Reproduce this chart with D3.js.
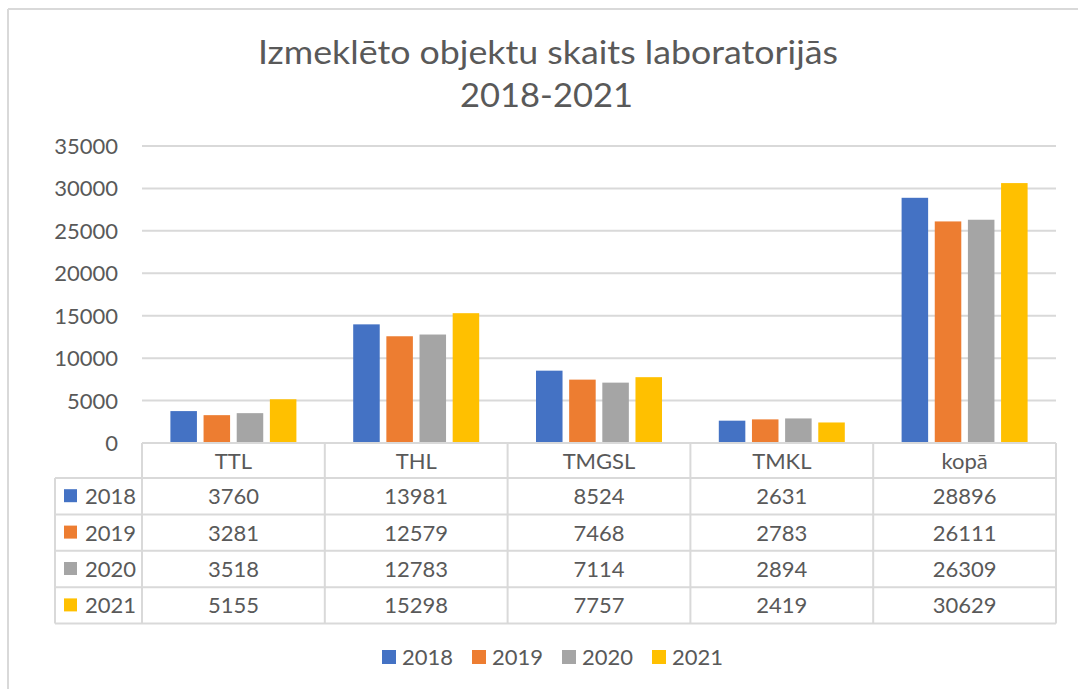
<!DOCTYPE html>
<html>
<head>
<meta charset="utf-8">
<script src="https://cdn.jsdelivr.net/npm/d3@7"></script>
<style>
  body { margin: 0; background: #fff; }
  text { font-family: Lato, "Liberation Sans", sans-serif; fill: #595959; }
</style>
</head>
<body>
<script>
// data
var categories = ['TTL', 'THL', 'TMGSL', 'TMKL', 'kopā'];
var years = ['2018', '2019', '2020', '2021'];
var values2018 = [3760, 13981, 8524, 2631, 28896];
var values2019 = [3281, 12579, 7468, 2783, 26111];
var values2020 = [3518, 12783, 7114, 2894, 26309];
var values2021 = [5155, 15298, 7757, 2419, 30629];
var yTicks = [0, 5000, 10000, 15000, 20000, 25000, 30000, 35000];
var colors = ['#4472C4', '#ED7D31', '#A5A5A5', '#FFC000'];

var series = [values2018, values2019, values2020, values2021];

var w = 1078;
var h = 689;
var plotLeft = 142, plotRight = 1056, plotTop = 146, base = 443;
var rowH = 36.4;
var headH = 35;
var legendColX = 55;
var grid = '#D9D9D9';
var fs = 22;

var svg = d3.select('body')
            .append('svg')
            .attr('width', w)
            .attr('height', h);

// outer frame (only top and left edges visible)
svg.append('line')
  .attr('x1', 8).attr('x2', w).attr('y1', 9).attr('y2', 9)
  .attr('stroke', grid).attr('stroke-width', 2);
svg.append('line')
  .attr('x1', 8).attr('x2', 8).attr('y1', 9).attr('y2', h)
  .attr('stroke', grid).attr('stroke-width', 2);

// title
svg.append('text')
  .attr('x', 258).attr('y', 64)
  .attr('font-size', 33)
  .attr('textLength', 580)
  .attr('lengthAdjust', 'spacingAndGlyphs')
  .text('Izmeklēto objektu skaits laboratorijās');
svg.append('text')
  .attr('x', 460).attr('y', 107)
  .attr('font-size', 33)
  .attr('textLength', 173)
  .attr('lengthAdjust', 'spacingAndGlyphs')
  .text('2018-2021');

var x0 = d3.scaleBand().domain(categories).range([plotLeft, plotRight]);
var x1 = d3.scaleBand().domain(years)
  .range([28.4, x0.bandwidth() - 28.4])
  .paddingInner(0.2);
var y = d3.scaleLinear().domain([0, 35000]).range([base, plotTop]);

// gridlines
svg.append('g')
  .selectAll('line')
  .data(yTicks)
  .enter()
  .append('line')
    .attr('x1', plotLeft).attr('x2', plotRight)
    .attr('y1', d => y(d)).attr('y2', d => y(d))
    .attr('stroke', grid).attr('stroke-width', 2);

// y labels
svg.append('g')
  .selectAll('text')
  .data(yTicks)
  .enter()
  .append('text')
    .attr('x', 118)
    .attr('y', d => y(d) + 8)
    .attr('text-anchor', 'end')
    .attr('font-size', fs)
    .text(d => d);

// bars
svg.append('g')
  .selectAll('g')
  .data(series)
  .enter()
  .append('g')
    .attr('fill', (d, i) => colors[i])
  .each(function(vals, si) {
    d3.select(this).selectAll('rect')
      .data(vals)
      .enter()
      .append('rect')
        .attr('x', (d, ci) => x0(categories[ci]) + x1(years[si]))
        .attr('width', x1.bandwidth())
        .attr('y', d => y(d))
        .attr('height', d => base - y(d));
  });

// data table
var tableBottom = base + headH + rowH * years.length;
var tg = svg.append('g')
  .attr('stroke', grid).attr('stroke-width', 2).attr('fill', 'none');

tg.append('line').attr('x1', plotLeft).attr('x2', plotRight).attr('y1', base).attr('y2', base);
d3.range(years.length + 1).forEach(function(i) {
  tg.append('line')
    .attr('x1', legendColX).attr('x2', plotRight)
    .attr('y1', base + headH + i * rowH).attr('y2', base + headH + i * rowH);
});
categories.forEach(function(c) {
  tg.append('line').attr('x1', x0(c)).attr('x2', x0(c)).attr('y1', base).attr('y2', tableBottom);
});
tg.append('line').attr('x1', plotRight).attr('x2', plotRight).attr('y1', base).attr('y2', tableBottom);
tg.append('line').attr('x1', legendColX).attr('x2', legendColX).attr('y1', base + headH).attr('y2', tableBottom);

// header text
svg.append('g')
  .selectAll('text')
  .data(categories)
  .enter()
  .append('text')
    .attr('x', d => x0(d) + x0.bandwidth() / 2)
    .attr('y', base + headH / 2 + 8)
    .attr('text-anchor', 'middle')
    .attr('font-size', fs)
    .text(d => d);

// row labels with keys, then values
years.forEach(function(yr, i) {
  var cy = base + headH + i * rowH + rowH / 2;
  svg.append('rect')
    .attr('x', 64).attr('y', cy - 7).attr('width', 13).attr('height', 13)
    .attr('fill', colors[i]);
  svg.append('text')
    .attr('x', 85).attr('y', cy + 8)
    .attr('font-size', fs)
    .text(yr);
  svg.append('g')
    .selectAll('text')
    .data(series[i])
    .enter()
    .append('text')
      .attr('x', (d, ci) => x0(categories[ci]) + x0.bandwidth() / 2)
      .attr('y', cy + 8)
      .attr('text-anchor', 'middle')
      .attr('font-size', fs)
      .text(d => d);
});

// legend
var legend = svg.append('g')
  .selectAll('g')
  .data(years)
  .enter()
  .append('g')
    .attr('transform', (d, i) => 'translate(' + (382 + i * 90) + ',657)');
legend.append('rect')
  .attr('x', 0).attr('y', -7).attr('width', 14).attr('height', 14)
  .attr('fill', (d, i) => colors[i]);
legend.append('text')
  .attr('x', 20).attr('y', 8)
  .attr('font-size', fs)
  .text(d => d);
</script>
</body>
</html>
